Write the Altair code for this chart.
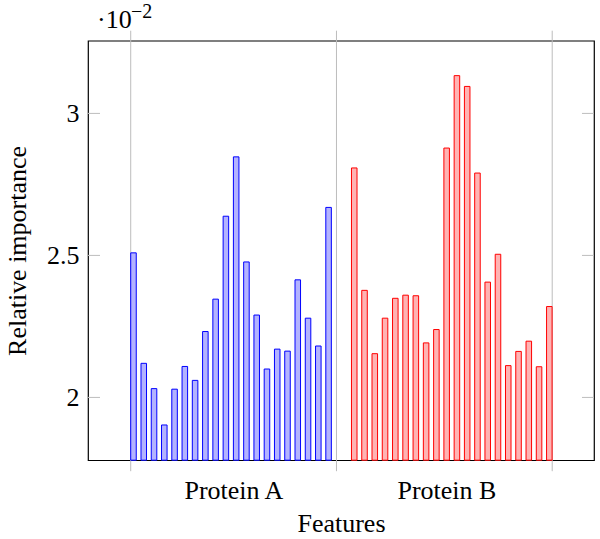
import altair as alt
import pandas as pd

# Data (values shown in units of 10^-2)
protein_a = [2.509, 2.120, 2.031, 1.903, 2.029, 2.109, 2.060, 2.232, 2.346, 2.638,
             2.847, 2.477, 2.290, 2.100, 2.170, 2.163, 2.414, 2.279, 2.181, 2.669]
protein_b = [2.808, 2.377, 2.154, 2.279, 2.349, 2.360, 2.358, 2.192, 2.239, 2.878,
             3.133, 3.095, 2.790, 2.406, 2.504, 2.112, 2.162, 2.198, 2.108, 2.320]
groups = ["Protein A", "Protein B"]
group_starts = [0.0, 21.5]
group_centers = [10.0, 30.75]
grid_positions = [0.0, 20.04, 41.05]
y_ticks = [2, 2.5, 3]

FONT = "Liberation Serif"
FS = 26
W, H = 506, 419.5
YMIN, YMAX = 1.779, 3.256
XMIN, XMAX = -4.16, 45.12
BAR_W = 0.54

rows = []
for g, start, vals in zip(groups, group_starts, [protein_a, protein_b]):
    for i, v in enumerate(vals):
        rows.append({"group": g, "x0": start + i, "x1": start + i + BAR_W, "value": v})
df = pd.DataFrame(rows)

xscale = alt.Scale(domain=[XMIN, XMAX], nice=False, zero=False)
yscale = alt.Scale(domain=[YMIN, YMAX], nice=False, zero=False)

grid_df = pd.DataFrame({"x": grid_positions})
grid = alt.Chart(grid_df).mark_rule(color="#bdbdbd", strokeWidth=1, clip=False).encode(
    x=alt.X("x:Q", scale=xscale,
            axis=alt.Axis(values=group_centers,
                          labelExpr="datum.value < 20 ? 'Protein A' : 'Protein B'",
                          ticks=False, domain=False, grid=False,
                          labelFont=FONT, labelFontSize=FS, labelColor="black",
                          labelPadding=17.5, title="Features", titleFont=FONT,
                          titleFontSize=FS, titleFontWeight="normal", titleColor="black",
                          titlePadding=7)),
    y=alt.value(-10),
    y2=alt.value(H + 11),
)

bars = alt.Chart(df).mark_bar(strokeWidth=1).encode(
    x=alt.X("x0:Q", scale=xscale),
    x2="x1:Q",
    y=alt.Y("value:Q", scale=yscale,
            axis=alt.Axis(values=y_ticks, labelExpr="toString(datum.value)",
                          ticks=False, domain=False, grid=False,
                          labelFont=FONT, labelFontSize=FS, labelColor="black",
                          labelPadding=9, title="Relative importance", titleFont=FONT,
                          titleFontSize=FS, titleFontWeight="normal", titleColor="black",
                          titlePadding=16)),
    y2=alt.datum(YMIN),
    fill=alt.Color("group:N", scale=alt.Scale(domain=groups, range=["#b3b3ff", "#ffb3b3"]), legend=None),
    stroke=alt.Stroke("group:N", scale=alt.Scale(domain=groups, range=["#0000ff", "#ff0000"]), legend=None),
)

tick_df = pd.DataFrame({"y": y_ticks})
ticks_left = alt.Chart(tick_df).mark_rule(color="#bdbdbd", strokeWidth=1).encode(
    y=alt.Y("y:Q", scale=yscale), x=alt.value(0), x2=alt.value(12))
ticks_right = alt.Chart(tick_df).mark_rule(color="#bdbdbd", strokeWidth=1).encode(
    y=alt.Y("y:Q", scale=yscale), x=alt.value(W - 12), x2=alt.value(W))

mult = alt.Chart(pd.DataFrame({"t": ["·10"]})).mark_text(
    font=FONT, fontSize=FS, align="left", baseline="alphabetic", color="black", clip=False
).encode(text="t:N", x=alt.value(9), y=alt.value(-13))
expo = alt.Chart(pd.DataFrame({"t": ["−2"]})).mark_text(
    font=FONT, fontSize=20, align="left", baseline="alphabetic", color="black", clip=False
).encode(text="t:N", x=alt.value(43), y=alt.value(-23))

chart = alt.layer(grid, bars, ticks_left, ticks_right, mult, expo).properties(
    width=W, height=H,
    autosize=alt.AutoSizeParams(type="none"),
    padding={"left": 88, "top": 40.7, "right": 6, "bottom": 79},
).configure(background="white").configure_view(stroke="black", strokeWidth=1.2)

chart.save("out.html", embed_options={"renderer": "svg", "actions": False})
